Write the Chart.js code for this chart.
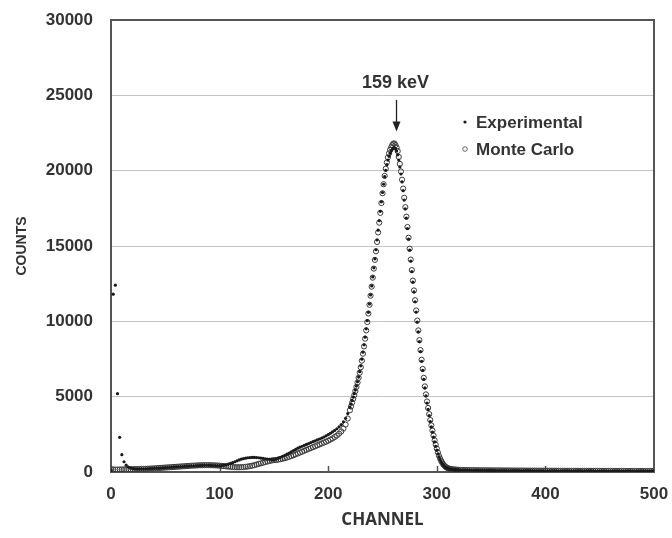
<!DOCTYPE html>
<html>
<head>
<meta charset="utf-8">
<script src="https://cdn.jsdelivr.net/npm/chart.js@4.4.0/dist/chart.umd.min.js"></script>
<style>
    html, body { margin: 0; padding: 0; background: #fff; }
</style>
</head>
<body>
<canvas id="spectrumChart" width="672" height="538"></canvas>
<script>
// 🔹 DATA
const channels = [
    0, 2, 4, 6, 8, 10, 12, 14, 16, 18, 20, 22, 24, 26, 28, 30, 32, 34, 36, 38,
    40, 42, 44, 46, 48, 50, 52, 54, 56, 58, 60, 62, 64, 66, 68, 70, 72, 74, 76, 78,
    80, 82, 84, 86, 88, 90, 92, 94, 96, 98, 100, 102, 104, 106, 108, 110, 112, 114, 116, 118,
    120, 122, 124, 126, 128, 130, 132, 134, 136, 138, 140, 142, 144, 146, 148, 150, 152, 154, 156, 158,
    160, 162, 164, 166, 168, 170, 172, 174, 176, 178, 180, 182, 184, 186, 188, 190, 192, 194, 196, 198,
    200, 202, 204, 206, 208, 210, 212, 214, 216, 218,
    220, 221, 222, 223, 224, 225, 226, 227, 228, 229, 230, 231, 232, 233, 234, 235, 236, 237, 238, 239,
    240, 241, 242, 243, 244, 245, 246, 247, 248, 249, 250, 251, 252, 253, 254, 255, 256, 257, 258, 259,
    260, 261, 262, 263, 264, 265, 266, 267, 268, 269, 270, 271, 272, 273, 274, 275, 276, 277, 278, 279,
    280, 281, 282, 283, 284, 285, 286, 287, 288, 289, 290, 291, 292, 293, 294, 295, 296, 297, 298, 299,
    300, 301, 302, 303, 304, 305, 306, 307, 308, 309, 310, 311, 312, 313, 314, 315, 316, 317, 318, 319, 320,
    322, 324, 326, 328, 330, 332, 334, 336, 338,
    340, 342, 344, 346, 348, 350, 352, 354, 356, 358, 360, 362, 364, 366, 368, 370, 372, 374, 376, 378,
    380, 382, 384, 386, 388, 390, 392, 394, 396, 398, 400, 402, 404, 406, 408, 410, 412, 414, 416, 418,
    420, 422, 424, 426, 428, 430, 432, 434, 436, 438, 440, 442, 444, 446, 448, 450, 452, 454, 456, 458,
    460, 462, 464, 466, 468, 470, 472, 474, 476, 478, 480, 482, 484, 486, 488, 490, 492, 494, 496, 498,
    500
];

const experimental = [
    120, 11800, 12400, 5200, 2300, 1150, 680, 450, 330, 270,
    230, 210, 200, 195, 200, 205, 210, 215, 225, 230,
    240, 250, 255, 265, 275, 285, 295, 305, 315, 325,
    335, 345, 355, 365, 375, 385, 395, 405, 410, 420,
    425, 430, 435, 440, 440, 440, 435, 430, 425, 420,
    420, 430, 450, 480, 520, 570, 620, 680, 740, 800,
    850, 890, 920, 945, 960, 970, 970, 960, 945, 925,
    905, 880, 860, 840, 820, 810, 860, 920, 980, 1040,
    1110, 1180, 1260, 1340, 1420, 1500, 1580, 1650, 1710, 1770,
    1830, 1890, 1950, 2010, 2070, 2130, 2190, 2250, 2320, 2400,
    2480, 2570, 2660, 2760, 2870, 3000, 3150, 3330, 3560, 3880,
    4300, 4520, 4750, 4970, 5200, 5440, 5700, 5990, 6300, 6660,
    7050, 7490, 7950, 8440, 8950, 9500, 10050, 10600, 11150, 11750,
    12350, 12950, 13550, 14150, 14750, 15400, 16050, 16680, 17300, 17930,
    18550, 19100, 19600, 20020, 20400, 20700, 20950, 21150, 21300, 21420,
    21500, 21520, 21450, 21300, 21050, 20700, 20250, 19780, 19250, 18670,
    18050, 17460, 16850, 16160, 15450, 14720, 14000, 13300, 12600, 11950,
    11300, 10620, 9950, 9300, 8650, 7990, 7350, 6740, 6150, 5580,
    5050, 4580, 4150, 3740, 3350, 2990, 2650, 2310, 2000, 1710,
    1450, 1210, 1000, 830, 680, 560, 460, 380, 320, 275,
    240, 212, 190, 173, 160, 152, 145, 140, 135, 132, 130,
    128, 125, 122, 120, 118, 117, 115, 114, 113,
    111, 110, 108, 107, 106, 105, 103, 102, 101, 100,
    99, 98, 97, 96, 95, 94, 93, 92, 91, 90,
    89, 88, 88, 87, 86, 85, 84, 84, 83, 82,
    81, 81, 80, 79, 79, 78, 77, 77, 76, 75,
    75, 74, 74, 73, 72, 72, 71, 71, 70, 70,
    69, 69, 68, 68, 67, 67, 66, 66, 65, 65,
    64, 64, 63, 63, 62, 62, 62, 61, 61, 60,
    60, 60, 59, 59, 58, 58, 58, 57, 57, 56,
    56
];

const monteCarlo = [
    180, 170, 160, 160, 165, 170, 170, 175, 180, 180,
    185, 190, 190, 195, 200, 205, 210, 220, 225, 235,
    245, 255, 265, 275, 285, 295, 305, 315, 325, 335,
    345, 355, 365, 375, 385, 395, 405, 415, 425, 430,
    440, 445, 450, 455, 455, 455, 450, 445, 440, 430,
    420, 405, 390, 375, 360, 345, 330, 320, 315, 315,
    320, 330, 345, 365, 390, 420, 455, 495, 535, 575,
    615, 655, 695, 730, 765, 790, 800, 820, 850, 880,
    920, 960, 1010, 1060, 1110, 1170, 1230, 1290, 1350, 1410,
    1470, 1530, 1590, 1650, 1710, 1770, 1830, 1890, 1950, 2010,
    2080, 2150, 2230, 2320, 2420, 2540, 2690, 2880, 3150, 3550,
    4100, 4350, 4600, 4850, 5100, 5370, 5650, 5940, 6250, 6590,
    6950, 7390, 7850, 8340, 8850, 9400, 9950, 10520, 11100, 11700,
    12300, 12900, 13500, 14080, 14650, 15270, 15900, 16550, 17200, 17850,
    18500, 19100, 19650, 20130, 20550, 20880, 21150, 21380, 21550, 21700,
    21800, 21800, 21700, 21530, 21300, 20910, 20450, 19950, 19400, 18810,
    18200, 17580, 16950, 16260, 15550, 14820, 14100, 13400, 12700, 12050,
    11400, 10720, 10050, 9400, 8750, 8090, 7450, 6840, 6250, 5680,
    5150, 4680, 4250, 3840, 3450, 3090, 2750, 2420, 2100, 1810,
    1550, 1300, 1080, 900, 740, 610, 500, 415, 350, 300,
    260, 232, 210, 190, 175, 167, 160, 155, 150, 145, 140,
    138, 134, 131, 128, 126, 124, 122, 120, 119,
    117, 116, 114, 113, 112, 110, 109, 108, 107, 106,
    105, 104, 103, 102, 101, 100, 99, 98, 97, 96,
    95, 95, 94, 93, 92, 92, 91, 90, 89, 89,
    88, 87, 87, 86, 85, 85, 84, 83, 83, 82,
    82, 81, 80, 80, 79, 79, 78, 78, 77, 77,
    76, 76, 75, 75, 74, 74, 73, 73, 72, 72,
    71, 71, 70, 70, 70, 69, 69, 68, 68, 68,
    67, 67, 66, 66, 66, 65, 65, 65, 64, 64,
    64
];

const xTicks = [0, 100, 200, 300, 400, 500];
const yTicks = [0, 5000, 10000, 15000, 20000, 25000, 30000];

// peak label
const peakLabel = "159 keV";
const peakChannel = 262;


// 🔹 HELPERS
const textColor = "#333333";
const frameColor = "#555555";

function toPoints(values) {
    return channels.map((ch, i) => ({ x: ch, y: values[i] }));
}


// 🔹 FRAME, INNER TICKS, PEAK ARROW AND LEGEND
const extras = {
    id: "extras",
    beforeDatasetsDraw(chart) {
        const ctx = chart.ctx;
        const area = chart.chartArea;
        const xs = chart.scales.x;

        ctx.save();
        ctx.strokeStyle = frameColor;
        ctx.lineWidth = 2;
        ctx.strokeRect(area.left, area.top, area.right - area.left, area.bottom - area.top);

        // small inside ticks on channel axis
        ctx.lineWidth = 1.5;
        xTicks.slice(1, -1).forEach(v => {
            let px = Math.round(xs.getPixelForValue(v)) + 0.5;
            ctx.beginPath();
            ctx.moveTo(px, area.bottom);
            ctx.lineTo(px, area.bottom - 6);
            ctx.stroke();
        });
        ctx.restore();
    },
    afterDatasetsDraw(chart) {
        const ctx = chart.ctx;
        const area = chart.chartArea;
        const xs = chart.scales.x;
        const ys = chart.scales.y;

        ctx.save();
        ctx.fillStyle = textColor;
        ctx.strokeStyle = "#222";

        // peak annotation
        let ax = Math.round(xs.getPixelForValue(peakChannel)) + 0.5;
        ctx.font = "bold 18px 'Liberation Sans', Arial, sans-serif";
        ctx.textAlign = "center";
        ctx.textBaseline = "middle";
        ctx.fillText(peakLabel, ax - 1, ys.getPixelForValue(25800));

        let y1 = ys.getPixelForValue(24700);
        let y2 = ys.getPixelForValue(22600);
        ctx.lineWidth = 1.3;
        ctx.beginPath();
        ctx.moveTo(ax, y1);
        ctx.lineTo(ax, y2 - 8);
        ctx.stroke();
        ctx.fillStyle = "#222";
        ctx.beginPath();
        ctx.moveTo(ax - 4, y2 - 10);
        ctx.lineTo(ax + 4, y2 - 10);
        ctx.lineTo(ax, y2);
        ctx.closePath();
        ctx.fill();

        // legend
        let lx = area.left + 354;
        let ly = area.top + 102;
        ctx.font = "bold 17px 'Liberation Sans', Arial, sans-serif";
        ctx.textAlign = "left";
        ctx.fillStyle = textColor;

        chart.data.datasets.forEach((ds, i) => {
            let yy = ly + i * 27;
            ctx.beginPath();
            if (i === 0) {
                ctx.fillStyle = "#1a1a1a";
                ctx.arc(lx, yy, 1.6, 0, Math.PI * 2);
                ctx.fill();
            } else {
                ctx.strokeStyle = "#666";
                ctx.lineWidth = 1;
                ctx.arc(lx, yy, 2.3, 0, Math.PI * 2);
                ctx.stroke();
            }
            ctx.fillStyle = textColor;
            ctx.fillText(ds.label, lx + 11, yy + 1);
        });
        ctx.restore();
    }
};


// 🔹 CHART
const ctx = document.getElementById("spectrumChart").getContext("2d");

let chart = new Chart(ctx, {
    type: "scatter",
    data: {
        datasets: [
            {
                label: "Experimental",
                data: toPoints(experimental),
                pointRadius: 1.6,
                pointBackgroundColor: "#1a1a1a",
                pointBorderWidth: 0,
                order: 0
            },
            {
                label: "Monte Carlo",
                data: toPoints(monteCarlo),
                pointRadius: 2.6,
                pointBackgroundColor: "rgba(255,255,255,0)",
                pointBorderColor: "#3a3a3a",
                pointBorderWidth: 1,
                order: 1
            }
        ]
    },
    options: {
        responsive: false,
        animation: false,
        devicePixelRatio: 1,
        layout: { padding: { top: 20, right: 18, left: 0, bottom: 0 } },
        plugins: {
            legend: { display: false },
            tooltip: { enabled: false }
        },
        scales: {
            x: {
                type: "linear",
                min: xTicks[0],
                max: xTicks[xTicks.length - 1],
                afterBuildTicks: s => { s.ticks = xTicks.map(v => ({ value: v })); },
                afterFit: s => { s.height = 66; s.paddingLeft = 0; s.paddingRight = 0; },
                grid: { display: false, drawTicks: false },
                border: { display: false },
                ticks: {
                    padding: 12,
                    color: textColor,
                    callback: v => String(v),
                    font: { family: "'Liberation Sans', Arial, sans-serif", size: 17, weight: "bold" }
                },
                title: {
                    display: true,
                    text: "CHANNEL",
                    color: textColor,
                    padding: { top: 8, bottom: 8 },
                    font: { family: "'Open Sans', sans-serif", size: 17, weight: "bold" }
                }
            },
            y: {
                min: yTicks[0],
                max: yTicks[yTicks.length - 1],
                afterBuildTicks: s => { s.ticks = yTicks.map(v => ({ value: v })); },
                afterFit: s => { s.width = 111; s.paddingTop = 0; s.paddingBottom = 0; },
                grid: { color: "#c4c4c4", lineWidth: 1, drawTicks: false },
                border: { display: false },
                ticks: {
                    padding: 18,
                    color: textColor,
                    callback: v => String(v),
                    font: { family: "'Liberation Sans', Arial, sans-serif", size: 17, weight: "bold" }
                },
                title: {
                    display: true,
                    text: "COUNTS",
                    color: textColor,
                    padding: { top: 14, bottom: 14 },
                    font: { family: "'Liberation Sans', Arial, sans-serif", size: 14, weight: "bold" }
                }
            }
        }
    },
    plugins: [extras]
});
</script>
</body>
</html>
